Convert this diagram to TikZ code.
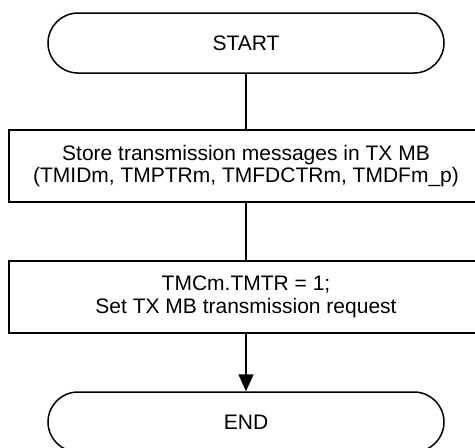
\documentclass[tikz,border=0pt]{standalone}
\usepackage{fontspec}
\setmainfont{Liberation Sans}
\usetikzlibrary{arrows.meta}
\begin{document}
\begin{tikzpicture}[x=1pt,y=-1pt,
  every node/.style={font=\fontsize{21}{22.5}\selectfont, align=center, inner sep=0pt},
  term/.style={draw, line width=1.5pt, rounded corners=30pt, minimum width=396pt, minimum height=60pt},
  procbox/.style={draw, line width=1.5pt, minimum width=474pt, minimum height=72pt},
  conn/.style={line width=1.5pt}
]
\useasboundingbox (0,0) rectangle (475,448);
\node[term] (start) at (246,43) {START};
\node[procbox] (store) at (246,166) {Store transmission messages in TX MB\\(TMIDm, TMPTRm, TMFDCTRm, TMDFm\_p)};
\node[procbox] (req) at (246,297) {TMCm.TMTR = 1;\\Set TX MB transmission request};
\node[term] (end) at (246,422) {END};
\draw[conn] (start.south) -- (store.north);
\draw[conn] (store.south) -- (req.north);
\draw[conn, -{Triangle[length=17pt,width=15pt]}] (req.south) -- (end.north);
\end{tikzpicture}
\end{document}
